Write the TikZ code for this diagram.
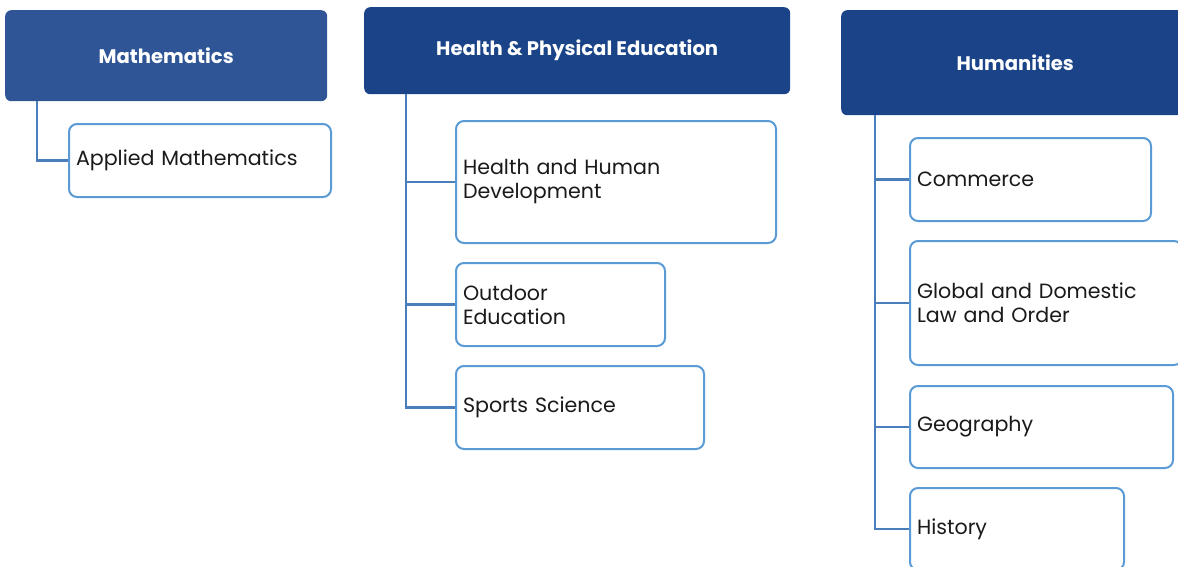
\documentclass[tikz,border=0pt]{standalone}
\usepackage{fontspec}
\setmainfont{Poppins}
\usetikzlibrary{calc}
\definecolor{hdrA}{HTML}{2F5597}
\definecolor{hdrB}{HTML}{1B4488}
\definecolor{kidline}{HTML}{5B9BD5}
\definecolor{conncol}{HTML}{4A7EBB}
\definecolor{txt}{HTML}{1A1A1A}
\tikzset{
  hdr/.style={fill=hdrB, draw=none, rounded corners=6pt, text=white, font=\fontsize{19.6}{22}\selectfont\bfseries, anchor=north west, inner sep=0pt, align=center},
  kid/.style={draw=kidline, line width=2pt, fill=white, rounded corners=8pt, text=txt, font=\fontsize{20.6}{24}\selectfont, anchor=north west, inner xsep=7pt, inner ysep=0pt, align=left},
  conn/.style={draw=conncol, line width=2.6pt}
}
\begin{document}
\begin{tikzpicture}[x=1pt,y=-1pt]
\useasboundingbox (0,0) rectangle (1178,566);
\clip (0,0) rectangle (1178,566);
% headers
\node[hdr, fill=hdrA, minimum width=322pt, minimum height=91pt] (math) at (5,10) {Mathematics};
\node[hdr, minimum width=426pt, minimum height=87pt] (hpe) at (364,7) {Health \& Physical Education};
\node[hdr, minimum width=348pt, minimum height=105pt] (hum) at (841,10) {Humanities};
% Mathematics children
\node[kid, minimum width=262pt, minimum height=73pt, text width=248pt] (am) at (68,123) {Applied Mathematics};
% HPE children
\node[kid, minimum width=320pt, minimum height=122pt, text width=306pt] (hhd) at (455,120) {Health and Human\\Development};
\node[kid, minimum width=209pt, minimum height=83pt, text width=195pt] (oe) at (455,262) {Outdoor\\Education};
\node[kid, minimum width=248pt, minimum height=83pt, text width=234pt] (ss) at (455,365) {Sports Science};
% Humanities children
\node[kid, minimum width=241pt, minimum height=83pt, text width=227pt] (com) at (909,137) {Commerce};
\node[kid, minimum width=272pt, minimum height=124pt, text width=258pt] (gdl) at (909,240) {Global and Domestic\\Law and Order};
\node[kid, minimum width=263pt, minimum height=82pt, text width=249pt] (geo) at (909,385) {Geography};
\node[kid, minimum width=214pt, minimum height=82pt, text width=200pt] (his) at (909,487) {History};
% connectors
\draw[conn] ($(math.south west)+(32,0)$) |- (am.west);
\draw[conn] ($(hpe.south west)+(42,0)$) |- (ss.west);
\draw[conn] ($(hpe.south west)+(42,0)$) |- (hhd.west);
\draw[conn] ($(hpe.south west)+(42,0)$) |- (oe.west);
\draw[conn] ($(hum.south west)+(34,0)$) |- (his.west);
\draw[conn] ($(hum.south west)+(34,0)$) |- (com.west);
\draw[conn] ($(hum.south west)+(34,0)$) |- (gdl.west);
\draw[conn] ($(hum.south west)+(34,0)$) |- (geo.west);
\end{tikzpicture}
\end{document}
